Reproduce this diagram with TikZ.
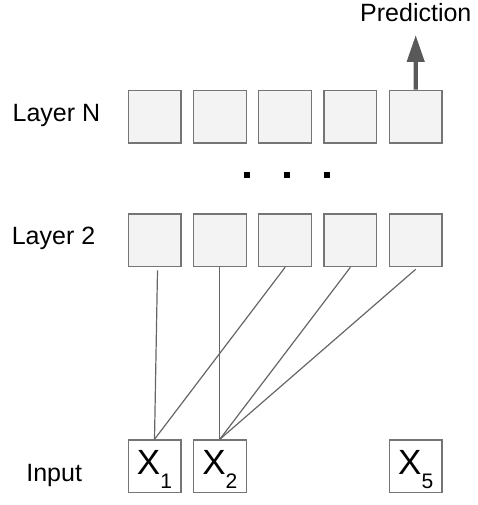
\documentclass[tikz,border=0pt]{standalone}
\usepackage{fontspec}
\setmainfont{Liberation Sans}
\usetikzlibrary{arrows.meta, positioning}
\definecolor{celledge}{HTML}{757575}
\definecolor{cellfill}{HTML}{F3F3F3}
\definecolor{wiregray}{HTML}{666666}
\definecolor{outgray}{HTML}{595959}

\begin{document}
\begin{tikzpicture}[
    x=1pt, y=1pt,
    layer label/.style={font=\fontsize{25}{30}\selectfont, anchor=base},
    hidden cell/.style={draw=celledge, fill=cellfill, line width=1.3pt,
        minimum size=52.7pt, inner sep=0pt},
    input cell/.style={draw=celledge, fill=white, line width=1.3pt,
        minimum size=52.7pt, inner sep=0pt, text height=25pt, text depth=7.6pt,
        font=\fontsize{35}{40}\selectfont},
    wire/.style={draw=wiregray, line width=1.2pt},
    output arrow/.style={draw=outgray, line width=4.3pt,
        -{Triangle[length=27pt, width=17pt]}},
    gap dot/.style={fill=black, minimum size=6pt, inner sep=0pt},
]
\useasboundingbox (0,0) rectangle (478,505);

% ══════════════════════════════════════════════════════════════════════
%  DIMENSIONS — five columns, three rows
% ══════════════════════════════════════════════════════════════════════
\def\colA{154.5}  \def\pitch{65.3}
\def\rowN{388.3}  \def\rowB{264.7}  \def\rowIn{38.7}

% ── Layer N and Layer 2 ───────────────────────────────────────────────
\foreach \i in {1,...,5} {
  \pgfmathsetmacro\cx{\colA+\pitch*(\i-1)}
  \node[hidden cell] (N\i) at (\cx,\rowN) {};
  \node[hidden cell] (B\i) at (\cx,\rowB) {};
}

% ── Input ─────────────────────────────────────────────────────────────
\node[input cell] (In1) at (\colA,\rowIn)
    {X\raisebox{-13pt}{\fontsize{21}{21}\selectfont 1}};
\node[input cell] (In2) at ({\colA+\pitch},\rowIn)
    {X\raisebox{-13pt}{\fontsize{21}{21}\selectfont 2}};
\node[input cell] (In5) at ({\colA+4*\pitch},\rowIn)
    {X\raisebox{-13pt}{\fontsize{21}{21}\selectfont 5}};

% ── dots between the layers ───────────────────────────────────────────
\foreach \x [count=\k] in {246.7, 286.7, 326.7}
  \node[gap dot] (dot\k) at (\x,330) {};

% ── row labels ────────────────────────────────────────────────────────
\node[layer label] (labN)  at (56.4,383.3) {Layer N};
\node[layer label] (lab2)  at (53.5,260)   {Layer 2};
\node[layer label] (labIn) at (54.2,23.3)  {Input};

% ── connections  (layer 2 -> input) ───────────────────────────────────
\draw[wire] ([xshift=3pt, yshift=-3pt]B1.south) -- (In1.north);
\draw[wire] (B3.south) -- (In1.north);
\draw[wire] (B2.south) -- (In2.north);
\draw[wire] (B4.south) -- (In2.north);
\draw[wire] ([yshift=-2pt]B5.south) -- (In2.north);

% ── prediction ────────────────────────────────────────────────────────
\node[layer label] (pred) at (415.8,483.3) {Prediction};
\coordinate (predtip) at (415.7,470);
\draw[output arrow] (N5.north) -- (predtip);

\end{tikzpicture}
\end{document}
